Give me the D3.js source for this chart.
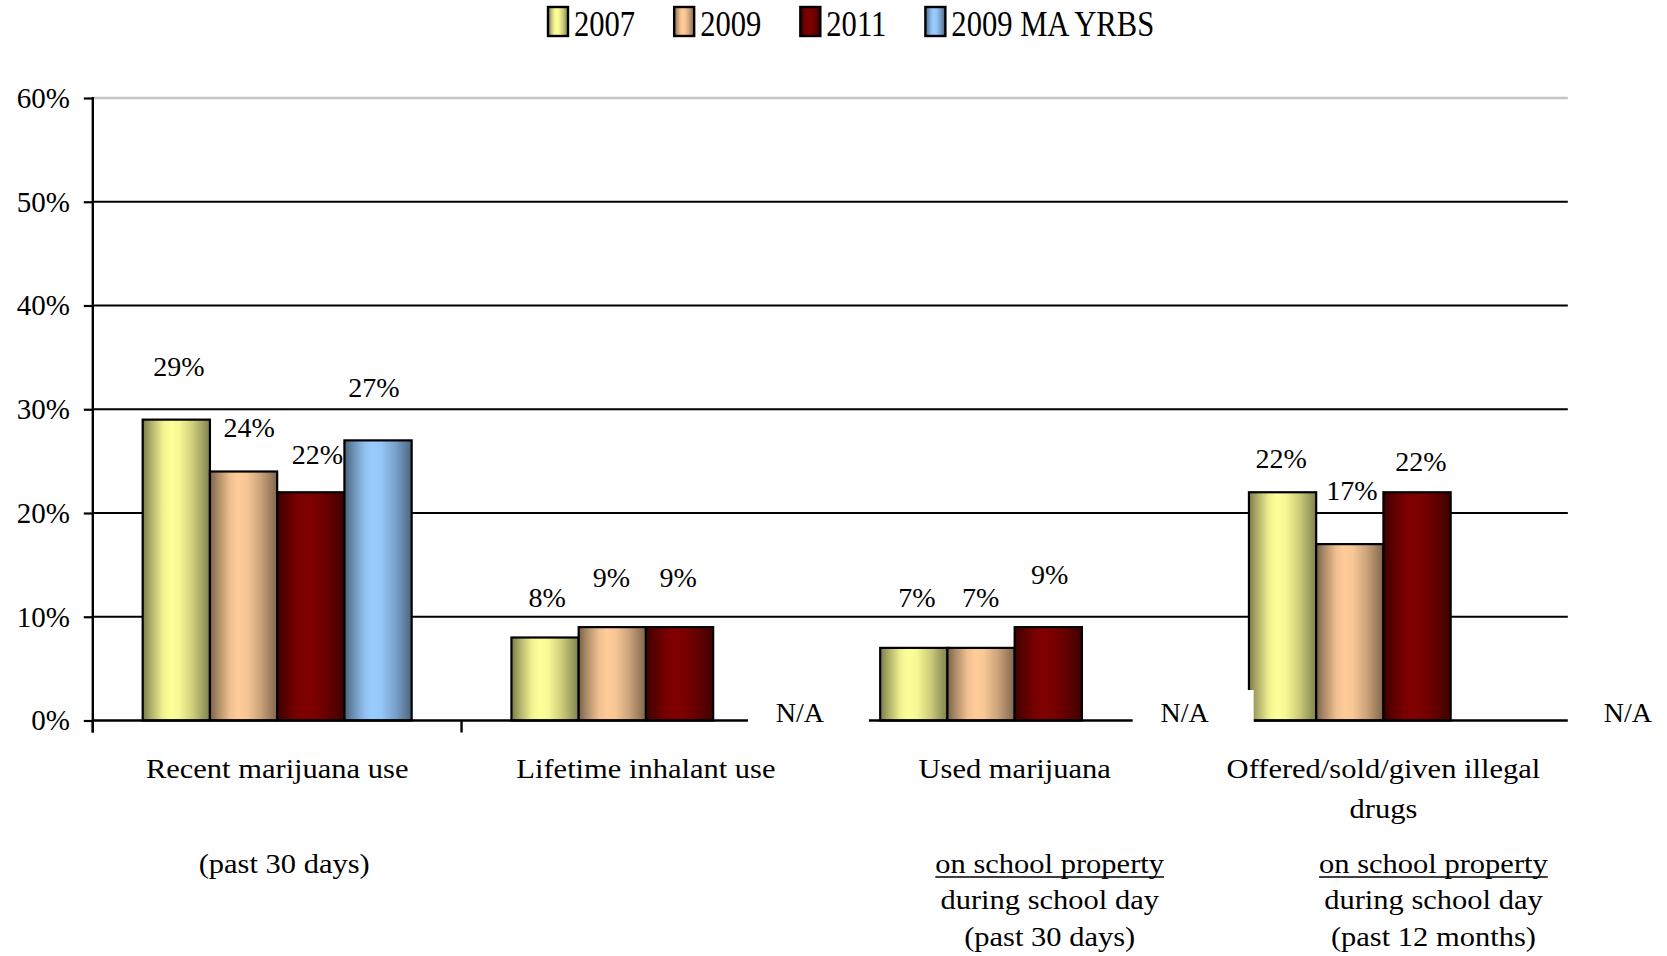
<!DOCTYPE html>
<html><head><meta charset="utf-8">
<script src="https://cdn.jsdelivr.net/npm/d3@7"></script>
<style>
html,body{margin:0;padding:0;background:#fff}
svg{display:block}
text{font-family:"Liberation Serif","Times New Roman",serif;fill:#000}
</style>
</head><body>
<svg id="chart" width="1667" height="956"></svg>
<script>
// ---------- data ----------
const categoryLines = [["Recent marijuana use"], ["Lifetime inhalant use"], ["Used marijuana"], ["Offered/sold/given illegal", "drugs"]];
const seriesNames = ["2007", "2009", "2011", "2009 MA YRBS"];
const values2007 = [29, 8, 7, 22];
const values2009 = [24, 9, 7, 17];
const values2011 = [22, 9, 9, 22];
const valuesMA   = [27, null, null, null];
const yTickValues = [0, 10, 20, 30, 40, 50, 60];
const naText = "N/A";
const subNotes = [
  { cat: 0, lines: ["(past 30 days)"], underline: [false] },
  { cat: 2, lines: ["on school property", "during school day", "(past 30 days)"], underline: [true, false, false] },
  { cat: 3, lines: ["on school property", "during school day", "(past 12 months)"], underline: [true, false, false] }
];

// ---------- styling (not data) ----------
const seriesColors = ["#ffff99", "#ffcc99", "#800000", "#99ccff"];
const labelDx   = [[2.5, 2, 3, -1.3], [5.7, -1, -0.5, 2], [6.7, -1.5, 1.3, 3.8], [-4, 0, 0, 0]];
const labelRise = [[53, 40, 50.4, 34], [44, 49.6, 51, 54], [38, 49.6, 53, 31.5], [53, 0, 0, 0]];
const naShift = [0, 154, 170, 244.5];
const subShift = { 0: 7, 2: 35, 3: 50 };

const allValues = [values2007, values2009, values2011, valuesMA];

const svg = d3.select("#chart");
const defs = svg.append("defs");

// gradients (cylinder-like shading)
const shadeStops = [[0, 0.48], [0.12, 0.68], [0.3, 0.94], [0.42, 1], [0.55, 0.97], [0.75, 0.8], [1, 0.5]];
seriesColors.forEach((c, i) => {
  const g = defs.append("linearGradient").attr("id", "grad" + i)
    .attr("x1", "0%").attr("x2", "100%").attr("y1", "0%").attr("y2", "0%");
  shadeStops.forEach(([o, k]) => {
    g.append("stop").attr("offset", (o * 100) + "%").attr("stop-color", d3.interpolateRgb("#000", c)(k));
  });
});

// ---------- scales ----------
const plotLeft = 92.8, plotRight = 1567.8;
const x0 = d3.scaleBand().domain(d3.range(categoryLines.length)).range([plotLeft, plotRight]).padding(0);
const x1 = d3.scaleBand().domain(d3.range(seriesNames.length)).range([0, x0.bandwidth()]).paddingInner(0).paddingOuter(0.742);
const y = d3.scaleLinear().domain([0, 60]).range([720.5, 98]);

// ---------- gridlines ----------
svg.append("g").selectAll("line").data(yTickValues.filter(d => d > 0)).join("line")
  .attr("x1", plotLeft).attr("x2", plotRight)
  .attr("y1", d => y(d)).attr("y2", d => y(d))
  .attr("stroke", d => d === 60 ? "#c4c4c4" : "#000")
  .attr("stroke-width", d => d === 60 ? 2.6 : 2.2);

// ---------- y axis ----------
const yAxis = svg.append("g").attr("transform", `translate(${plotLeft},0)`)
  .call(d3.axisLeft(y).tickValues(yTickValues).tickFormat(d => d + "%").tickSize(9).tickPadding(14));
yAxis.select(".domain").remove();
yAxis.selectAll(".tick line").attr("stroke", "#000").attr("stroke-width", 2.2);
yAxis.selectAll(".tick text").attr("font-size", 29).attr("font-family", '"Liberation Serif","Times New Roman",serif').attr("fill", "#000");
svg.append("line").attr("x1", plotLeft).attr("x2", plotLeft).attr("y1", y(60) - 1).attr("y2", y(0) + 12)
  .attr("stroke", "#000").attr("stroke-width", 2.4);

// ---------- bars ----------
const barData = [];
allValues.forEach((arr, s) => arr.forEach((v, c) => { if (v !== null) barData.push({ s, c, v }); }));

svg.append("g").selectAll("rect").data(barData).join("rect")
  .attr("x", d => x0(d.c) + x1(d.s))
  .attr("y", d => y(d.v))
  .attr("width", x1.bandwidth())
  .attr("height", d => y(0) - y(d.v))
  .attr("fill", d => `url(#grad${d.s})`)
  .attr("stroke", "#000").attr("stroke-width", 2.2);

// ---------- x baseline & category ticks ----------
svg.append("line").attr("x1", plotLeft).attr("x2", plotRight).attr("y1", y(0)).attr("y2", y(0))
  .attr("stroke", "#000").attr("stroke-width", 2.6);
svg.append("g").selectAll("line").data(d3.range(categoryLines.length)).join("line")
  .attr("x1", c => x0(c)).attr("x2", c => x0(c))
  .attr("y1", y(0)).attr("y2", y(0) + 12)
  .attr("stroke", "#000").attr("stroke-width", 2.4);

// ---------- value labels ----------
svg.append("g").selectAll("text").data(barData).join("text")
  .attr("x", d => x0(d.c) + x1(d.s) + x1.bandwidth() / 2 + labelDx[d.s][d.c])
  .attr("y", d => y(d.v) - labelRise[d.s][d.c])
  .attr("dy", "0.35em")
  .attr("text-anchor", "middle")
  .attr("font-size", 28)
  .text(d => d.v + "%");

// ---------- N/A labels (with white boxes) ----------
const naData = [];
valuesMA.forEach((v, c) => { if (v === null) naData.push(c); });
const naG = svg.append("g");
naData.forEach(c => {
  const cx = x0(c) + x0.bandwidth() / 2 + naShift[c];
  naG.append("rect").attr("x", cx - 52).attr("y", 690).attr("width", 121).attr("height", 52).attr("fill", "#fff");
  naG.append("text").attr("x", cx).attr("y", 721.5).attr("text-anchor", "middle").attr("font-size", 28).text(naText);
});

// ---------- category labels ----------
const stretch = 1.13;
function stretchedText(parent, x, yy, str, size, sx, underline) {
  const g = parent.append("g").attr("transform", `translate(${x},${yy}) scale(${sx},1)`);
  const t = g.append("text").attr("x", 0).attr("y", 0).attr("text-anchor", "middle").attr("font-size", size).text(str);
  if (underline) {
    const w = t.node().getComputedTextLength();
    g.append("line").attr("x1", -w / 2).attr("x2", w / 2).attr("y1", 4).attr("y2", 4)
      .attr("stroke", "#000").attr("stroke-width", 1.6);
  }
  return t;
}
const catG = svg.append("g");
categoryLines.forEach((lines, c) => {
  lines.forEach((ln, i) => {
    stretchedText(catG, x0(c) + x0.bandwidth() / 2, 778 + i * 40, ln, 27, stretch, false);
  });
});
const subBaselines = [873, 909, 946];
subNotes.forEach(n => {
  n.lines.forEach((ln, i) => {
    stretchedText(catG, x0(n.cat) + x0.bandwidth() / 2 + subShift[n.cat], subBaselines[i], ln, 27, stretch, n.underline[i]);
  });
});

// ---------- legend ----------
const legG = svg.append("g");
let lx = 548;
seriesNames.forEach((name, i) => {
  legG.append("rect").attr("x", lx).attr("y", 7).attr("width", 20).attr("height", 29)
    .attr("fill", `url(#grad${i})`).attr("stroke", "#000").attr("stroke-width", 2.4);
  const sx = 0.85;
  const g = legG.append("g").attr("transform", `translate(${lx + 26},35.5) scale(${sx},1)`);
  const t = g.append("text").attr("x", 0).attr("y", 0).attr("font-size", 36).text(name);
  lx = lx + 26 + t.node().getComputedTextLength() * sx + 39;
});
</script>
</body></html>
